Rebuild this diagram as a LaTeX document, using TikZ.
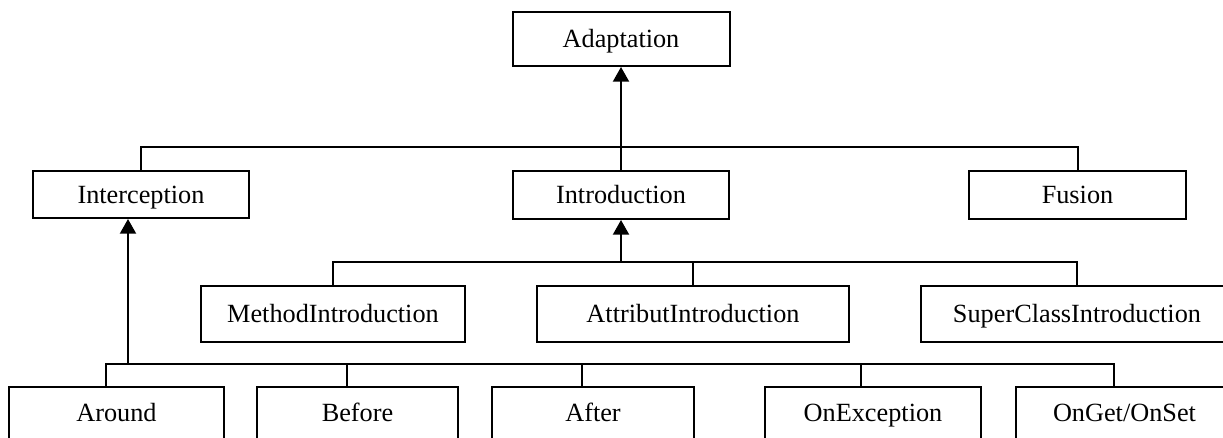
\documentclass[tikz,border=0pt]{standalone}
\usepackage{fontspec}
\setmainfont{Liberation Serif}
\usetikzlibrary{arrows.meta}
\begin{document}
\begin{tikzpicture}[x=0.75pt,y=-0.75pt,
  box/.style={draw, line width=1.5pt, inner sep=0pt, text height=13pt, text depth=0pt,
    font=\fontsize{19.7pt}{23pt}\selectfont},
  link/.style={line width=1.5pt},
  arrow/.style={line width=1.5pt, -{Triangle[length=11pt,width=12pt]}}]
\useasboundingbox (0,0) rectangle (1223,437);
\clip (0,0) rectangle (1223,437);
% top
\node[box, minimum width=162.75pt, minimum height=40.5pt] (adapt) at (621,39) {Adaptation};
% second row
\node[box, minimum width=162pt, minimum height=35.25pt] (interc) at (141,194.5) {Interception};
\node[box, minimum width=162pt, minimum height=36pt] (intro) at (621,195) {Introduction};
\node[box, minimum width=162.75pt, minimum height=36pt] (fusion) at (1077.5,195) {Fusion};
% third row
\node[box, minimum width=198pt, minimum height=42pt] (methI) at (333,314) {MethodIntroduction};
\node[box, minimum width=234pt, minimum height=42pt] (attrI) at (693,314) {AttributIntroduction};
\node[box, minimum width=234pt, minimum height=42pt] (superI) at (1077,314) {SuperClassIntroduction};
% bottom row
\node[box, minimum width=161.25pt, minimum height=39pt] (around) at (116.5,413) {Around};
\node[box, minimum width=150.75pt, minimum height=39pt] (before) at (357.5,413) {Before};
\node[box, minimum width=151.5pt, minimum height=39pt] (after) at (593,413) {After};
\node[box, minimum width=162pt, minimum height=39pt] (onexc) at (873,413) {OnException};
\node[box, minimum width=162.75pt, minimum height=39pt] (onget) at (1124.5,413) {OnGet/OnSet};
% junctions
\coordinate (j1) at (621,147);
\coordinate (j2) at (621,262);
\coordinate (j3) at (128,364);
% Adaptation tree
\draw[link] (interc.north) |- (j1) -| (fusion.north);
\draw[arrow] (intro.north) -- (adapt.south);
% Introduction tree
\draw[link] (methI.north) |- (j2) -| (superI.north);
\draw[link] (attrI.north) -- (attrI.north |- j2);
\draw[arrow] (j2) -- (intro.south);
% Interception tree
\draw[link] ([xshift=-8.25pt]around.north) |- (j3) -| ([xshift=-8.25pt]onget.north);
\draw[link] ([xshift=-8.25pt]before.north) -- ([xshift=-8.25pt]before.north |- j3);
\draw[link] ([xshift=-8.25pt]after.north) -- ([xshift=-8.25pt]after.north |- j3);
\draw[link] ([xshift=-9pt]onexc.north) -- ([xshift=-9pt]onexc.north |- j3);
\draw[arrow] (j3) -- (j3 |- interc.south);
\end{tikzpicture}
\end{document}
